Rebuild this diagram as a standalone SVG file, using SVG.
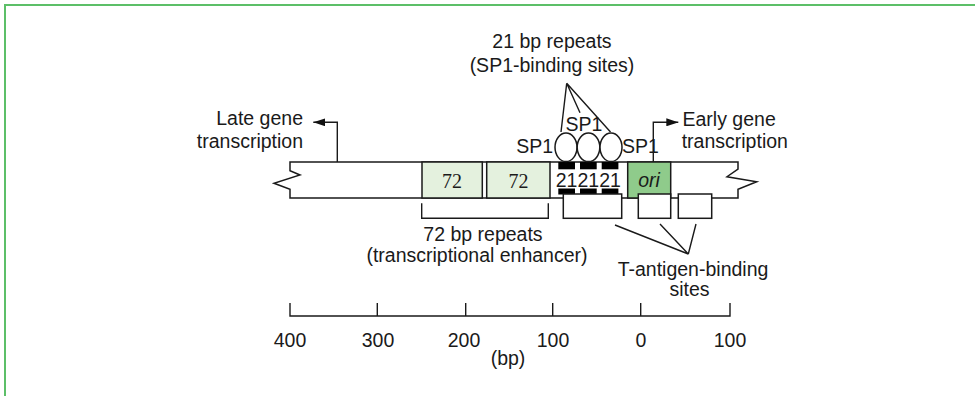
<svg xmlns="http://www.w3.org/2000/svg" width="975" height="396" viewBox="0 0 975 396">
<defs>
<marker id="ah" viewBox="0 0 12 8" refX="12" refY="4" markerWidth="12" markerHeight="8" markerUnits="userSpaceOnUse" orient="auto">
<path d="M0,0 L12,4 L0,8 Z" fill="#111"/>
</marker>
</defs>
<style>
.t{font-family:"Liberation Sans",Arial,sans-serif;font-size:19.5px;fill:#1a1a1a}
.s{font-family:"Liberation Serif","Times New Roman",serif;font-size:20px;fill:#1a1a1a}
.ln{stroke:#1a1a1a;stroke-width:1.4;fill:none}
.bx{stroke:#1a1a1a;stroke-width:1.5}
</style>
<rect width="975" height="396" fill="#fff"/>
<path d="M5,400 V5 H980" stroke="#5cbf68" stroke-width="2" fill="none"/>

<g id="dna">
<path class="bx" fill="#fff" d="M290,162 H738 V169 L727,176.7 L756.7,181.7 L738,189.3 V198 H290 V189.3 L274,183.3 L300,175 L290,170.7 Z"/>
</g>
<g id="repeat72a"><rect class="bx" x="422" y="162" width="60.3" height="36" fill="#e4f1de"/><text class="s" x="452" y="188.3" text-anchor="middle">72</text></g>
<g id="repeat72b"><rect class="bx" x="486.7" y="162" width="63.3" height="36" fill="#e4f1de"/><text class="s" x="518.5" y="188.3" text-anchor="middle">72</text></g>
<g id="ori"><rect class="bx" x="627.7" y="162" width="43" height="36" fill="#8fcb8b"/><text class="t" x="649" y="187" text-anchor="middle" font-style="italic">ori</text></g>

<g id="repeats21">
<rect x="558.3" y="162" width="16.7" height="7.3" fill="#000"/>
<rect x="580" y="162" width="16.7" height="7.3" fill="#000"/>
<rect x="601.7" y="162" width="16.7" height="7.3" fill="#000"/>
<rect x="558.3" y="188.5" width="16.7" height="6" fill="#000"/>
<rect x="580" y="188.5" width="16.7" height="6" fill="#000"/>
<rect x="601.7" y="188.5" width="16.7" height="6" fill="#000"/>
<text class="t" x="566.5" y="186.5" text-anchor="middle" font-size="16">21</text>
<text class="t" x="588.3" y="186.5" text-anchor="middle" font-size="16">21</text>
<text class="t" x="610" y="186.5" text-anchor="middle" font-size="16">21</text>
</g>

<g id="sp1">
<ellipse class="bx" cx="566" cy="147.3" rx="11" ry="14.3" fill="#fff"/>
<ellipse class="bx" cx="588.5" cy="147.3" rx="11.3" ry="14.3" fill="#fff"/>
<ellipse class="bx" cx="611" cy="147.3" rx="11" ry="14.3" fill="#fff"/>
<text class="t" x="553" y="153" text-anchor="end">SP1</text>
<text class="t" x="584" y="131" text-anchor="middle">SP1</text>
<text class="t" x="622" y="153">SP1</text>
</g>

<g id="tantigen">
<rect class="bx" x="563.3" y="194" width="58.4" height="24.3" fill="#fff"/>
<rect class="bx" x="638.3" y="194" width="32.4" height="24.3" fill="#fff"/>
<rect class="bx" x="678.3" y="194" width="33.4" height="24.3" fill="#fff"/>
</g>

<g id="connectors">
<path class="ln" d="M337.3,162 V122.3 H313.3" marker-end="url(#ah)"/>
<path class="ln" d="M653.3,162 V122.3 H678.3" marker-end="url(#ah)"/>
<path class="ln" d="M566.7,83.3 L561,132 M566.7,83.3 L580,112.7 M566.7,83.3 L610.5,132"/>
<path class="ln" d="M688.3,254 L615,225 M688.3,254 L660,224 M688.3,254 L696,224"/>
<path class="ln" d="M421.7,203.3 V218.3 H548.3 V203.3"/>
</g>

<g id="labels">
<text class="t" x="303" y="125" text-anchor="end">Late gene</text>
<text class="t" x="303" y="148.3" text-anchor="end">transcription</text>
<text class="t" x="682.5" y="126">Early gene</text>
<text class="t" x="681.7" y="148.3">transcription</text>
<text class="t" x="552" y="48.3" text-anchor="middle">21 bp repeats</text>
<text class="t" x="552" y="71.7" text-anchor="middle">(SP1-binding sites)</text>
<text class="t" x="483" y="240.5" text-anchor="middle">72 bp repeats</text>
<text class="t" x="477" y="262" text-anchor="middle">(transcriptional enhancer)</text>
<text class="t" x="693" y="276" text-anchor="middle">T-antigen-binding</text>
<text class="t" x="689.5" y="296" text-anchor="middle">sites</text>
</g>

<g id="scale">
<path class="ln" d="M290,303 V316 H730 V303 M377.3,303 V316 M465.7,303 V316 M552.7,303 V316 M640.7,303 V316"/>
<text class="t" x="290" y="346.7" text-anchor="middle">400</text>
<text class="t" x="378" y="346.7" text-anchor="middle">300</text>
<text class="t" x="464" y="346.7" text-anchor="middle">200</text>
<text class="t" x="553" y="346.7" text-anchor="middle">100</text>
<text class="t" x="641" y="346.7" text-anchor="middle">0</text>
<text class="t" x="730" y="346.7" text-anchor="middle">100</text>
<text class="t" x="508" y="365" text-anchor="middle">(bp)</text>
</g>
</svg>
